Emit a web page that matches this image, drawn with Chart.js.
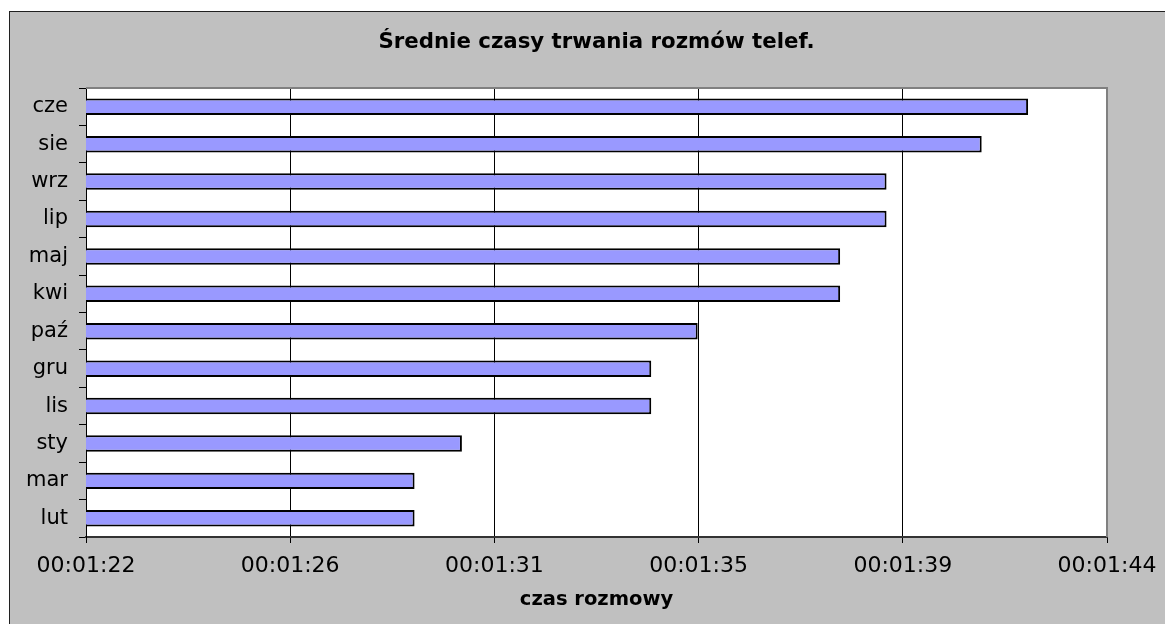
<!DOCTYPE html>
<html>
<head>
<meta charset="utf-8">
<script src="https://cdn.jsdelivr.net/npm/chart.js@4"></script>
<style>
  html, body { margin: 0; padding: 0; background: #ffffff; overflow: hidden; }
  #frame {
    position: absolute; left: 9px; top: 11px; width: 1200px; height: 700px;
    background: #c0c0c0; border-left: 1px solid #202020; border-top: 1px solid #202020;
  }
  #myChart { position: absolute; left: 0; top: 0; }
</style>
</head>
<body>
<div id="frame"></div>
<canvas id="myChart" width="1165" height="624"></canvas>
<script>
// months, top to bottom
var months = ['cze', 'sie', 'wrz', 'lip', 'maj', 'kwi', 'paź', 'gru', 'lis', 'sty', 'mar', 'lut'];
// average call length, in seconds
var avgSeconds = [102.3, 101.3, 99.25, 99.25, 98.25, 98.25, 95.18, 94.18, 94.18, 90.1, 89.08, 89.08];
// value axis ticks (seconds) and their labels as shown
var tickSeconds = [82, 86.4, 90.8, 95.2, 99.6, 104];
var tickLabels = ['00:01:22', '00:01:26', '00:01:31', '00:01:35', '00:01:39', '00:01:44'];

var FONT = 'DejaVu Sans, Verdana, sans-serif';

/* white plot area, gray border on top and right */
var plotBorder = {
  id: 'plotBorder',
  beforeDraw: function(chart) {
    var a = chart.chartArea, ctx = chart.ctx;
    ctx.save();
    ctx.fillStyle = '#ffffff';
    ctx.fillRect(a.left, a.top, a.right - a.left, a.bottom - a.top);
    ctx.restore();
  },
  afterDraw: function(chart) {
    var a = chart.chartArea, ctx = chart.ctx;
    ctx.save();
    ctx.strokeStyle = '#808080';
    ctx.lineWidth = 2;
    ctx.beginPath();
    ctx.moveTo(a.left, a.top);
    ctx.lineTo(a.right, a.top);
    ctx.lineTo(a.right, a.bottom);
    ctx.stroke();
    ctx.restore();
  }
};

var config = {
  type: 'bar',
  data: {
    labels: months,
    datasets: [{
      label: 'czas rozmowy',
      data: avgSeconds,
      backgroundColor: '#9999ff',
      borderColor: '#000000',
      borderWidth: 2,
      categoryPercentage: 1,
      barPercentage: 0.44
    }]
  },
  options: {
    indexAxis: 'y',
    responsive: false,
    animation: false,
    layout: { padding: { left: 0, right: 58, top: 0, bottom: 0 } },
    plugins: {
      legend: { display: false },
      tooltip: { enabled: false },
      title: {
        display: true,
        fullSize: false, // centre over the plot, not the canvas
        text: 'Średnie czasy trwania rozmów telef.',
        color: '#000000',
        font: { family: FONT, size: 21.3, weight: 'bold' },
        padding: { top: 29.5, bottom: 33 }
      }
    },
    scales: {
      x: {
        type: 'linear',
        min: 82,
        max: 104,
        afterBuildTicks: function(scale) {
          scale.ticks = tickSeconds.map(function(v) { return { value: v }; });
        },
        afterFit: function(scale) {
          scale.height = 87;
          // last label may hang past the plot edge
          scale.paddingLeft = 0;
          scale.paddingRight = 0;
        },
        ticks: {
          color: '#000000',
          font: { family: FONT, size: 22 },
          padding: 10.5,
          maxRotation: 0,
          autoSkip: false,
          callback: function(value, index) { return tickLabels[index]; }
        },
        grid: { color: '#000000', lineWidth: 1, tickLength: 6, tickColor: '#000000' },
        border: { color: '#333333', width: 2 },
        title: {
          display: true,
          text: 'czas rozmowy',
          color: '#000000',
          font: { family: FONT, size: 19.5, weight: 'bold' },
          padding: { top: 0, bottom: 12 }
        }
      },
      y: {
        afterFit: function(scale) { scale.width = 86; },
        ticks: {
          color: '#000000',
          font: { family: FONT, size: 21 },
          padding: 11
        },
        grid: { drawOnChartArea: false, tickLength: 7, tickColor: '#000000', offset: true },
        border: { color: '#000000', width: 1 }
      }
    }
  },
  plugins: [plotBorder]
};

window.onload = function() {
  var ctx = document.getElementById('myChart').getContext('2d');
  window.barChart = new Chart(ctx, config);
};
</script>
</body>
</html>
